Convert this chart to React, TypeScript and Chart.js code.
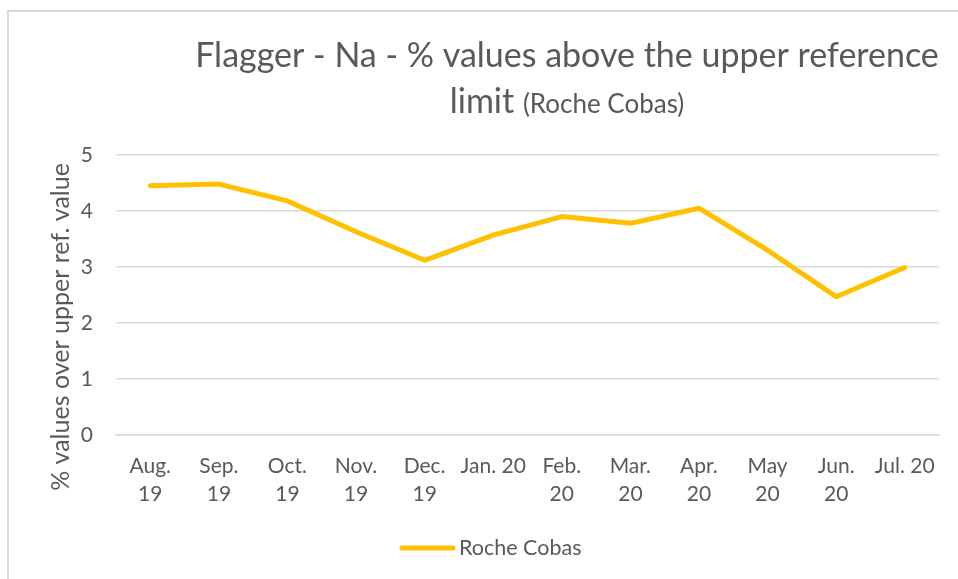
import React, { useEffect, useRef } from "react";
import { Chart, registerables } from "chart.js";

Chart.register(...registerables);

const categories: (string | string[])[] = [
  ["Aug.", "19"], ["Sep.", "19"], ["Oct.", "19"], ["Nov.", "19"], ["Dec.", "19"],
  "Jan. 20", ["Feb.", "20"], ["Mar.", "20"], ["Apr.", "20"], ["May", "20"], ["Jun.", "20"], "Jul. 20",
];
const rocheCobas = [4.45, 4.48, 4.18, 3.63, 3.12, 3.57, 3.9, 3.78, 4.05, 3.3, 2.47, 2.99];
const yMin = 0;
const yMax = 5;
const yStep = 1;
const seriesName = "Roche Cobas";
const titleMain = "Flagger - Na - % values above the upper reference";
const titleLine2 = "limit";
const titleSub = "(Roche Cobas)";
const yTitle = "% values over upper ref. value";

const FONT = "Lato";
const TEXT = "#595959";
const GRID = "#d9d9d9";
const LINE = "#FFC000";

export default function App() {
  const ref = useRef<HTMLCanvasElement | null>(null);
  useEffect(() => {
    document.body.style.margin = "0";
    const canvas = ref.current!;
    const deco = {
      id: "deco",
      beforeDraw(chart: any) {
        const ctx = chart.ctx;
        ctx.save();
        ctx.strokeStyle = GRID;
        ctx.lineWidth = 2;
        ctx.strokeRect(8, 11, 1200, 1200);
        ctx.restore();
      },
      afterDraw(chart: any) {
        const ctx = chart.ctx;
        ctx.save();
        ctx.fillStyle = TEXT;
        ctx.textBaseline = "alphabetic";
        // title
        ctx.font = `34px ${FONT}`;
        ctx.textAlign = "center";
        ctx.fillText(titleMain, 567, 67);
        ctx.font = `34px ${FONT}`;
        const w1 = ctx.measureText(titleLine2 + " ").width;
        ctx.font = `26px ${FONT}`;
        const w2 = ctx.measureText(titleSub).width;
        const start = 567 - (w1 + w2) / 2;
        ctx.textAlign = "left";
        ctx.font = `34px ${FONT}`;
        ctx.fillText(titleLine2 + " ", start, 113);
        ctx.font = `26px ${FONT}`;
        ctx.fillText(titleSub, start + w1, 113);
        // y title
        ctx.save();
        ctx.translate(61, 327);
        ctx.rotate(-Math.PI / 2);
        ctx.textAlign = "center";
        ctx.textBaseline = "middle";
        ctx.font = `25px ${FONT}`;
        ctx.fillText(yTitle, 0, 0);
        ctx.restore();
        // legend
        const ds = chart.data.datasets[0];
        ctx.strokeStyle = ds.borderColor;
        ctx.lineWidth = 5;
        ctx.lineCap = "round";
        ctx.beginPath();
        ctx.moveTo(402, 548);
        ctx.lineTo(453, 548);
        ctx.stroke();
        ctx.textAlign = "left";
        ctx.textBaseline = "middle";
        ctx.font = `21.5px ${FONT}`;
        ctx.fillText(ds.label, 459, 548);
        ctx.restore();
      },
    };
    const chart = new Chart(canvas, {
      type: "line",
      data: {
        labels: categories as any,
        datasets: [
          {
            label: seriesName,
            data: rocheCobas,
            borderColor: LINE,
            backgroundColor: LINE,
            borderWidth: 5,
            pointRadius: 0,
            tension: 0,
            borderJoinStyle: "round",
            borderCapStyle: "round",
          },
        ],
      },
      options: {
        responsive: false,
        animation: false,
        layout: { padding: { left: 0, right: 19, top: 155, bottom: 0 } },
        plugins: { legend: { display: false }, title: { display: false }, tooltip: { enabled: false } },
        scales: {
          x: {
            offset: true,
            grid: { display: false, drawTicks: false, offset: true },
            border: { display: true, color: GRID, width: 1.5 },
            ticks: {
              color: TEXT,
              font: { family: FONT, size: 21, lineHeight: 1.3 },
              padding: 18,
              maxRotation: 0,
              autoSkip: false,
            },
            afterFit: (s: any) => {
              s.height = 579 - 435;
            },
          },
          y: {
            min: yMin,
            max: yMax,
            ticks: { stepSize: yStep, color: TEXT, font: { family: FONT, size: 21 }, padding: 23 },
            grid: { color: GRID, lineWidth: 1.5, drawTicks: false },
            border: { display: false },
            afterFit: (s: any) => {
              s.width = 116;
            },
          },
        },
      },
      plugins: [deco],
    });
    return () => chart.destroy();
  }, []);
  return (
    <div style={{ width: 958, height: 579, position: "relative" }}>
      <canvas ref={ref} width={958} height={579} style={{ display: "block" }} />
    </div>
  );
}
